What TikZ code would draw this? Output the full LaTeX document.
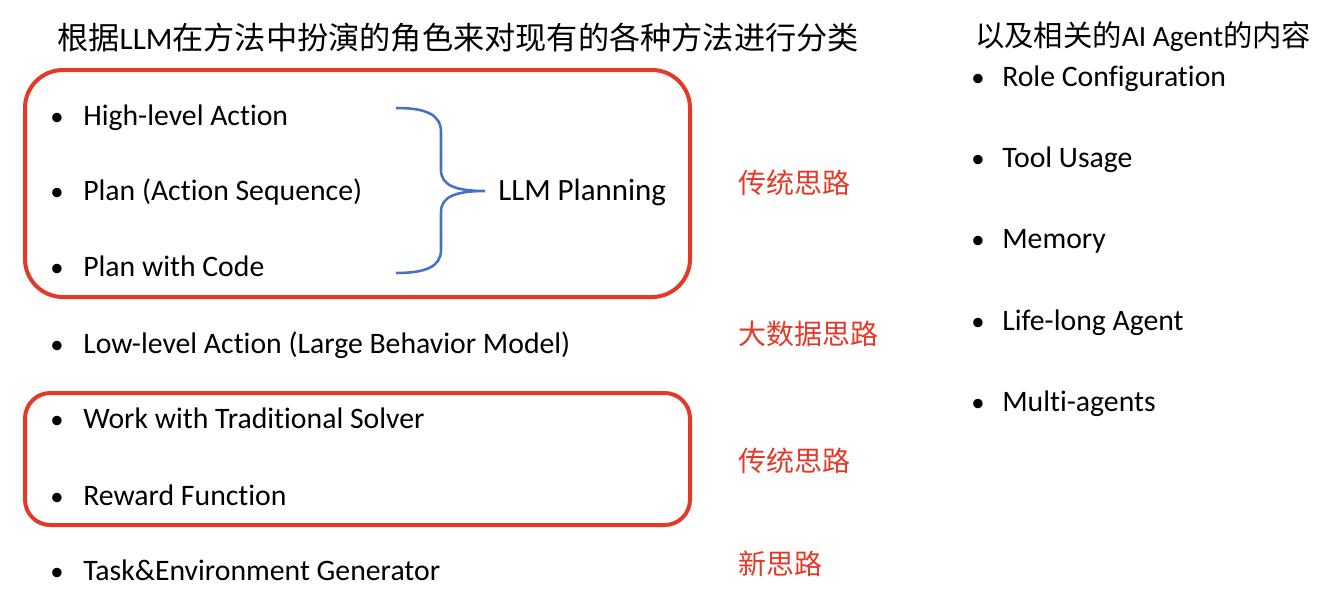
\documentclass[tikz,border=0pt]{standalone}
\usepackage{fontspec}
\setmainfont{Carlito}[Ligatures=NoCommon]
\newfontfamily\cjk{Noto Sans CJK SC}
\definecolor{boxred}{RGB}{229,57,40}
\definecolor{braceblue}{RGB}{68,114,196}
\begin{document}
\begin{tikzpicture}[x=0.75pt,y=-0.75pt,
  item/.style={inner sep=0pt,anchor=base west,font=\fontsize{22.3pt}{26pt}\selectfont},
  dot/.style={inner sep=0pt,anchor=base,font=\fontsize{20pt}{26pt}\selectfont},
  heading/.style={inner sep=0pt,anchor=base west,font=\fontsize{23.4pt}{28pt}\selectfont},
  redlabel/.style={inner sep=0pt,anchor=base west,text=boxred,font=\cjk\fontsize{21pt}{26pt}\selectfont},
  groupbox/.style={draw=boxred,line width=3pt},
  bracestyle/.style={draw=braceblue,line width=1.9pt}]
\useasboundingbox (0,0) rectangle (1329,603);
% headings
\node[heading] (t1) at (57,50) {{\cjk 根据}LLM{\cjk 在方法中扮演的角色来对现有的各种方法进行分类}};
\node[heading,font=\fontsize{22pt}{28pt}\selectfont] (t2) at (975,46) {{\cjk 以及相关的}AI Agent{\cjk 的内容}};
% red boxes
\draw[groupbox,rounded corners=28.5pt] (25,70) rectangle (690,297);
\draw[groupbox,rounded corners=19pt] (25,393) rectangle (690,525);
% left items
\foreach \y/\n/\t in {125/a/High-level Action,200/b/Plan (Action Sequence),276/c/Plan with Code,353/d/Low-level Action (Large Behavior Model),428/e/Work with Traditional Solver,505/f/Reward Function,580/g/Task\&Environment Generator}{
  \node[dot] (d\n) at (57,\y) {•};
  \node[item] (i\n) at (83,\y) {\t};
}
% right items
\foreach \y/\n/\t in {86/a/Role Configuration,167/b/Tool Usage,248/c/Memory,330/d/Life-long Agent,411/e/Multi-agents}{
  \node[dot] (rd\n) at (978,\y) {•};
  \node[item] (r\n) at (1002,\y) {\t};
}
% brace
\coordinate (bt) at (396,108);
\coordinate (bm) at (485,191);
\coordinate (bb) at (396,273);
\draw[bracestyle] (bt) .. controls (425,108) and (441,114) .. (441,132) -- (441,170)
  .. controls (441,185) and (455,191) .. (bm)
  .. controls (455,191) and (441,197) .. (441,212) -- (441,250)
  .. controls (441,267) and (425,273) .. (bb);
\node[item,font=\fontsize{23.2pt}{28pt}\selectfont] (llm) at (498,200) {LLM Planning};
% red labels
\node[redlabel] (l1) at (738,193) {传统思路};
\node[redlabel] (l2) at (738,344) {大数据思路};
\node[redlabel] (l3) at (738,471) {传统思路};
\node[redlabel] (l4) at (738,574) {新思路};
\end{tikzpicture}
\end{document}
